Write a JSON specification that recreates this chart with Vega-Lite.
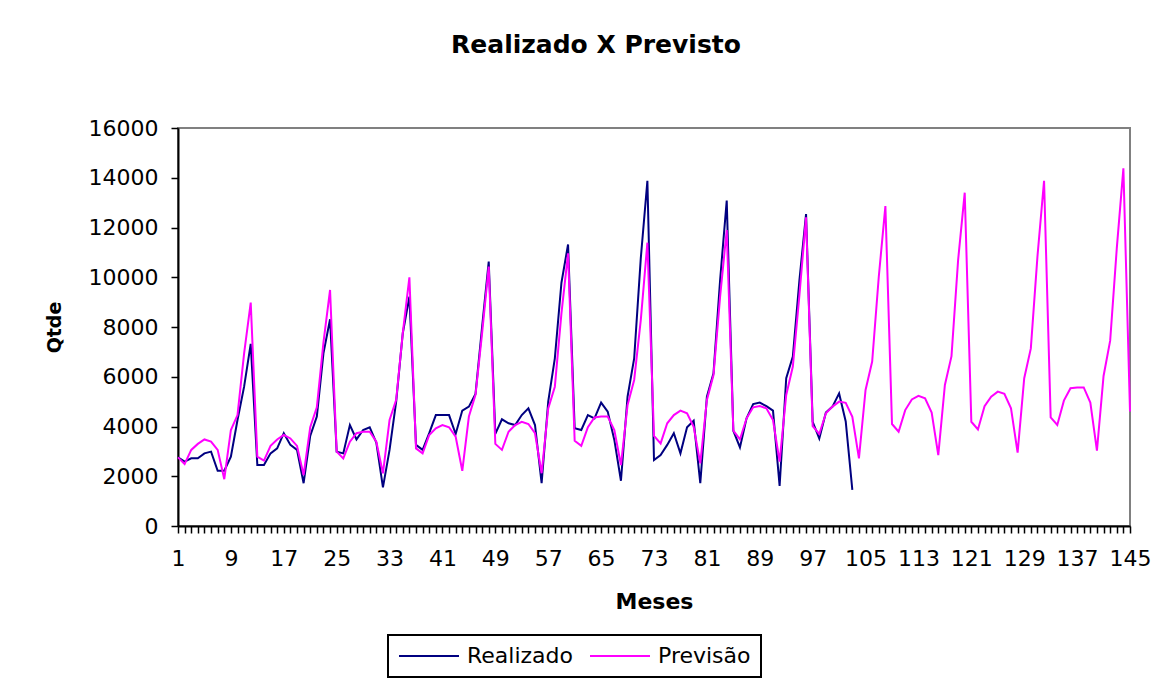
{
  "$schema": "https://vega.github.io/schema/vega-lite/v6.json",
  "width": 952,
  "height": 398,
  "autosize": {"type": "none"},
  "padding": {"left": 178, "top": 128, "right": 46, "bottom": 154},
  "background": "white",
  "title": {
    "text": "Realizado X Previsto",
    "font": "DejaVu Sans",
    "fontSize": 25,
    "fontWeight": "bold",
    "color": "black",
    "anchor": "middle",
    "frame": "group",
    "dx": -58,
    "baseline": "alphabetic",
    "offset": 39
  },
  "data": {
    "values": [
      {"m":1,"Realizado":2760,"Previsão":2760},
      {"m":2,"Realizado":2590,"Previsão":2490},
      {"m":3,"Realizado":2720,"Previsão":3060},
      {"m":4,"Realizado":2720,"Previsão":3300},
      {"m":5,"Realizado":2920,"Previsão":3480},
      {"m":6,"Realizado":2990,"Previsão":3390},
      {"m":7,"Realizado":2220,"Previsão":3060},
      {"m":8,"Realizado":2220,"Previsão":1880},
      {"m":9,"Realizado":2790,"Previsão":3860},
      {"m":10,"Realizado":4260,"Previsão":4460},
      {"m":11,"Realizado":5600,"Previsão":6940},
      {"m":12,"Realizado":7320,"Previsão":8980},
      {"m":13,"Realizado":2450,"Previsão":2790},
      {"m":14,"Realizado":2450,"Previsão":2630},
      {"m":15,"Realizado":2920,"Previsão":3220},
      {"m":16,"Realizado":3120,"Previsão":3480},
      {"m":17,"Realizado":3730,"Previsão":3660},
      {"m":18,"Realizado":3260,"Previsão":3520},
      {"m":19,"Realizado":3060,"Previsão":3220},
      {"m":20,"Realizado":1720,"Previsão":2050},
      {"m":21,"Realizado":3620,"Previsão":3970},
      {"m":22,"Realizado":4400,"Previsão":4770},
      {"m":23,"Realizado":6940,"Previsão":7370},
      {"m":24,"Realizado":8310,"Previsão":9490},
      {"m":25,"Realizado":2990,"Previsão":2990},
      {"m":26,"Realizado":2920,"Previsão":2720},
      {"m":27,"Realizado":4060,"Previsão":3390},
      {"m":28,"Realizado":3480,"Previsão":3730},
      {"m":29,"Realizado":3860,"Previsão":3790},
      {"m":30,"Realizado":3970,"Previsão":3790},
      {"m":31,"Realizado":3350,"Previsão":3390},
      {"m":32,"Realizado":1550,"Previsão":2120},
      {"m":33,"Realizado":3060,"Previsão":4260},
      {"m":34,"Realizado":5000,"Previsão":5070},
      {"m":35,"Realizado":7750,"Previsão":7750},
      {"m":36,"Realizado":9220,"Previsão":10000},
      {"m":37,"Realizado":3260,"Previsão":3120},
      {"m":38,"Realizado":3060,"Previsão":2920},
      {"m":39,"Realizado":3730,"Previsão":3660},
      {"m":40,"Realizado":4460,"Previsão":3930},
      {"m":41,"Realizado":4460,"Previsão":4060},
      {"m":42,"Realizado":4460,"Previsão":3970},
      {"m":43,"Realizado":3700,"Previsão":3590},
      {"m":44,"Realizado":4640,"Previsão":2220},
      {"m":45,"Realizado":4800,"Previsão":4400},
      {"m":46,"Realizado":5310,"Previsão":5270},
      {"m":47,"Realizado":8010,"Previsão":7750},
      {"m":48,"Realizado":10630,"Previsão":10430},
      {"m":49,"Realizado":3700,"Previsão":3300},
      {"m":50,"Realizado":4290,"Previsão":3060},
      {"m":51,"Realizado":4130,"Previsão":3790},
      {"m":52,"Realizado":4060,"Previsão":4060},
      {"m":53,"Realizado":4460,"Previsão":4190},
      {"m":54,"Realizado":4730,"Previsão":4100},
      {"m":55,"Realizado":4060,"Previsão":3730},
      {"m":56,"Realizado":1720,"Previsão":2120},
      {"m":57,"Realizado":5000,"Previsão":4730},
      {"m":58,"Realizado":6740,"Previsão":5600},
      {"m":59,"Realizado":9780,"Previsão":8550},
      {"m":60,"Realizado":11320,"Previsão":10960},
      {"m":61,"Realizado":3930,"Previsão":3430},
      {"m":62,"Realizado":3860,"Previsão":3220},
      {"m":63,"Realizado":4460,"Previsão":3970},
      {"m":64,"Realizado":4330,"Previsão":4360},
      {"m":65,"Realizado":4960,"Previsão":4400},
      {"m":66,"Realizado":4600,"Previsão":4400},
      {"m":67,"Realizado":3460,"Previsão":3860},
      {"m":68,"Realizado":1820,"Previsão":2450},
      {"m":69,"Realizado":5200,"Previsão":4860},
      {"m":70,"Realizado":6740,"Previsão":5870},
      {"m":71,"Realizado":10760,"Previsão":8280},
      {"m":72,"Realizado":13880,"Previsão":11390},
      {"m":73,"Realizado":2650,"Previsão":3620},
      {"m":74,"Realizado":2850,"Previsão":3320},
      {"m":75,"Realizado":3260,"Previsão":4130},
      {"m":76,"Realizado":3730,"Previsão":4460},
      {"m":77,"Realizado":2920,"Previsão":4640},
      {"m":78,"Realizado":3970,"Previsão":4530},
      {"m":79,"Realizado":4230,"Previsão":3990},
      {"m":80,"Realizado":1720,"Previsão":2520},
      {"m":81,"Realizado":5200,"Previsão":5070},
      {"m":82,"Realizado":6140,"Previsão":6070},
      {"m":83,"Realizado":9890,"Previsão":9220},
      {"m":84,"Realizado":13080,"Previsão":11900},
      {"m":85,"Realizado":3830,"Previsão":3830},
      {"m":86,"Realizado":3160,"Previsão":3480},
      {"m":87,"Realizado":4330,"Previsão":4330},
      {"m":88,"Realizado":4900,"Previsão":4770},
      {"m":89,"Realizado":4960,"Previsão":4820},
      {"m":90,"Realizado":4820,"Previsão":4730},
      {"m":91,"Realizado":4640,"Previsão":4260},
      {"m":92,"Realizado":1610,"Previsão":2590},
      {"m":93,"Realizado":5940,"Previsão":5270},
      {"m":94,"Realizado":6810,"Previsão":6410},
      {"m":95,"Realizado":9890,"Previsão":9290},
      {"m":96,"Realizado":12540,"Previsão":12410},
      {"m":97,"Realizado":4190,"Previsão":4020},
      {"m":98,"Realizado":3520,"Previsão":3700},
      {"m":99,"Realizado":4560,"Previsão":4530},
      {"m":100,"Realizado":4800,"Previsão":4800},
      {"m":101,"Realizado":5330,"Previsão":5000},
      {"m":102,"Realizado":4200,"Previsão":4950},
      {"m":103,"Realizado":1450,"Previsão":4390},
      {"m":104,"Previsão":2720},
      {"m":105,"Previsão":5470},
      {"m":106,"Previsão":6610},
      {"m":107,"Previsão":10020},
      {"m":108,"Previsão":12860},
      {"m":109,"Previsão":4100},
      {"m":110,"Previsão":3790},
      {"m":111,"Previsão":4660},
      {"m":112,"Previsão":5090},
      {"m":113,"Previsão":5230},
      {"m":114,"Previsão":5130},
      {"m":115,"Previsão":4560},
      {"m":116,"Previsão":2850},
      {"m":117,"Previsão":5670},
      {"m":118,"Previsão":6830},
      {"m":119,"Previsão":10690},
      {"m":120,"Previsão":13400},
      {"m":121,"Previsão":4190},
      {"m":122,"Previsão":3880},
      {"m":123,"Previsão":4820},
      {"m":124,"Previsão":5200},
      {"m":125,"Previsão":5400},
      {"m":126,"Previsão":5310},
      {"m":127,"Previsão":4730},
      {"m":128,"Previsão":2950},
      {"m":129,"Previsão":5940},
      {"m":130,"Previsão":7140},
      {"m":131,"Previsão":10830},
      {"m":132,"Previsão":13880},
      {"m":133,"Previsão":4370},
      {"m":134,"Previsão":4060},
      {"m":135,"Previsão":5040},
      {"m":136,"Previsão":5540},
      {"m":137,"Previsão":5570},
      {"m":138,"Previsão":5570},
      {"m":139,"Previsão":4960},
      {"m":140,"Previsão":3030},
      {"m":141,"Previsão":6030},
      {"m":142,"Previsão":7450},
      {"m":143,"Previsão":11160},
      {"m":144,"Previsão":14380},
      {"m":145,"Previsão":4600}
    ]
  },
  "transform": [
    {"fold": ["Realizado", "Previsão"], "as": ["serie", "qtde"]},
    {"filter": "isValid(datum.qtde)"}
  ],
  "mark": {"type": "line", "strokeWidth": 2, "interpolate": "linear"},
  "encoding": {
    "x": {
      "field": "m",
      "type": "quantitative",
      "scale": {"domain": [1, 145], "nice": false, "zero": false},
      "axis": {
        "title": "Meses",
        "values": [1,2,3,4,5,6,7,8,9,10,11,12,13,14,15,16,17,18,19,20,21,22,23,24,25,26,27,28,29,30,31,32,33,34,35,36,37,38,39,40,41,42,43,44,45,46,47,48,49,50,51,52,53,54,55,56,57,58,59,60,61,62,63,64,65,66,67,68,69,70,71,72,73,74,75,76,77,78,79,80,81,82,83,84,85,86,87,88,89,90,91,92,93,94,95,96,97,98,99,100,101,102,103,104,105,106,107,108,109,110,111,112,113,114,115,116,117,118,119,120,121,122,123,124,125,126,127,128,129,130,131,132,133,134,135,136,137,138,139,140,141,142,143,144,145],
        "labelExpr": "(datum.value - 1) % 8 == 0 ? datum.label : ''",
        "labelOverlap": false,
        "labelFlush": false,
        "labelBound": false,
        "grid": false,
        "tickSize": 7,
        "tickWidth": 1.5,
        "tickColor": "black",
        "domainColor": "black",
        "domainWidth": 2,
        "labelFont": "DejaVu Sans",
        "labelFontSize": 22,
        "labelColor": "black",
        "labelPadding": 15,
        "titleFont": "DejaVu Sans",
        "titleFontSize": 22,
        "titleFontWeight": "bold",
        "titleColor": "black",
        "titlePadding": 22
      }
    },
    "y": {
      "field": "qtde",
      "type": "quantitative",
      "scale": {"domain": [0, 16000], "nice": false},
      "axis": {
        "title": "Qtde",
        "values": [0,2000,4000,6000,8000,10000,12000,14000,16000],
        "format": "d",
        "grid": false,
        "tickSize": 7,
        "tickWidth": 1.5,
        "tickColor": "black",
        "domainColor": "black",
        "domainWidth": 2,
        "labelFont": "DejaVu Sans",
        "labelFontSize": 22,
        "labelColor": "black",
        "labelPadding": 13,
        "titleFont": "DejaVu Sans",
        "titleFontSize": 19,
        "titleFontWeight": "bold",
        "titleColor": "black",
        "titlePadding": 24
      }
    },
    "color": {
      "field": "serie",
      "type": "nominal",
      "scale": {"domain": ["Realizado", "Previsão"], "range": ["#000080", "#FF00FF"]},
      "legend": {
        "title": null,
        "orient": "none",
        "legendX": 210,
        "legendY": 507,
        "direction": "horizontal",
        "symbolType": "M-3,0H3",
        "symbolSize": 400,
        "symbolOffset": 20,
        "symbolStrokeWidth": 2,
        "labelFont": "DejaVu Sans",
        "labelFontSize": 22,
        "labelColor": "black",
        "labelOffset": 27,
        "columnPadding": 13,
        "padding": 10,
        "strokeColor": "black",
        "fillColor": "white",
        "cornerRadius": 0
      }
    }
  },
  "config": {
    "view": {"stroke": "#808080", "strokeWidth": 2},
    "font": "DejaVu Sans",
    "legend": {"strokeWidth": 2}
  }
}
